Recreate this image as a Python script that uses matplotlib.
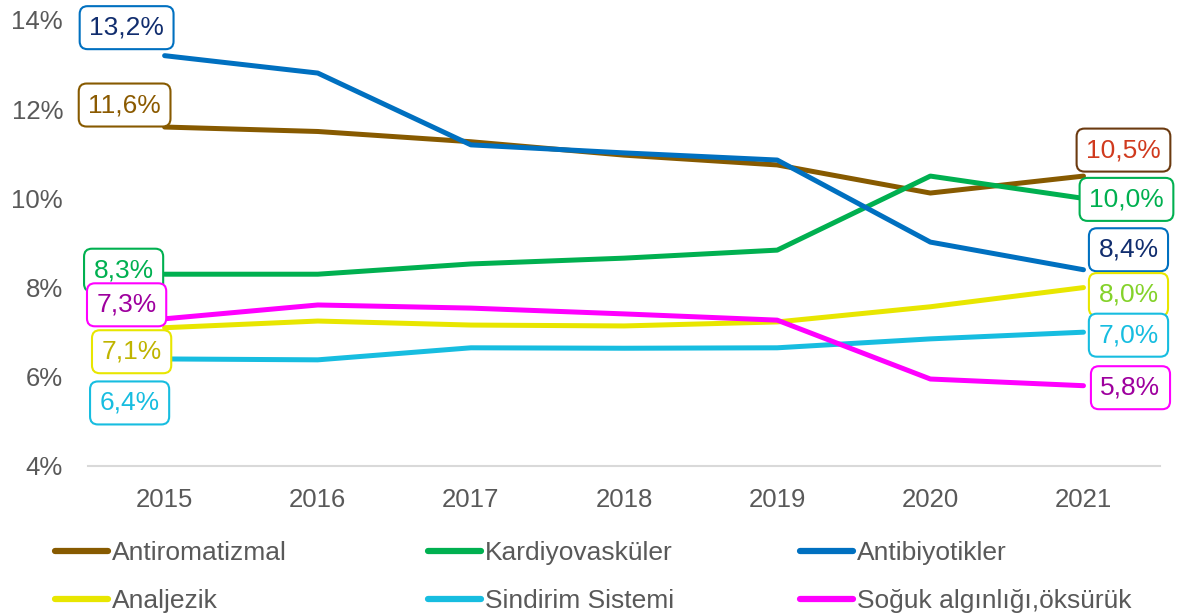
import matplotlib.pyplot as plt
from matplotlib.lines import Line2D

plt.rcParams['font.family'] = ['Liberation Sans', 'DejaVu Sans']

years = ['2015', '2016', '2017', '2018', '2019', '2020', '2021']

antiromatizmal = [11.6, 11.5, 11.27, 10.97, 10.75, 10.12, 10.5]
kardiyovaskuler = [8.3, 8.3, 8.53, 8.66, 8.84, 10.5, 10.0]
antibiyotikler = [13.2, 12.81, 11.2, 11.02, 10.86, 9.02, 8.4]
analjezik = [7.1, 7.25, 7.16, 7.14, 7.23, 7.57, 8.0]
sindirim = [6.4, 6.38, 6.65, 6.64, 6.65, 6.85, 7.0]
soguk = [7.3, 7.61, 7.54, 7.41, 7.27, 5.95, 5.8]

names = ['Antiromatizmal', 'Kardiyovasküler', 'Antibiyotikler',
         'Analjezik', 'Sindirim Sistemi', 'Soğuk algınlığı,öksürük']
series = [antiromatizmal, kardiyovaskuler, antibiyotikler, analjezik, sindirim, soguk]
colors = ['#875A00', '#00B050', '#0070C0', '#E8E600', '#17BDE0', '#FF00FF']

# label colours and offsets (pixels) for the first and last point
first_txt = ['#8B5A00', '#00B050', '#112D6E', '#BFB400', '#17BDE0', '#9E009E']
last_txt = ['#D03A1E', '#00B050', '#112D6E', '#84D22A', '#17BDE0', '#9E009E']
last_edge = ['#6B3A10', '#00B050', '#0070C0', '#E8E600', '#17BDE0', '#FF00FF']
first_off = [(-40, 22), (-41, 4), (-38, 28), (-33, -24), (-35, -44), (-38, 14)]
last_off = [(40, 26), (43, -1), (45, 20), (45, -7), (45, -3), (47, -2)]

fig = plt.figure(figsize=(11.77, 6.15), dpi=100)
ax = fig.add_axes([0.0748, 0.2423, 0.9108, 0.7252])

x = list(range(len(years)))
for s, c in zip(series, colors):
    ax.plot(x, s, color=c, lw=3.6, solid_capstyle='round', solid_joinstyle='round')

def fmt(v):
    return f'{v:.1f}%'.replace('.', ',')

box = 'round,pad=0.36,rounding_size=0.3'
for i, s in enumerate(series):
    ax.annotate(fmt(s[0]), xy=(0, s[0]), xytext=first_off[i], textcoords='offset pixels',
                ha='center', va='center', fontsize=19, color=first_txt[i],
                bbox=dict(boxstyle=box, fc='white', ec=colors[i], lw=1.5), zorder=5)
    ax.annotate(fmt(s[-1]), xy=(6, s[-1]), xytext=last_off[i], textcoords='offset pixels',
                ha='center', va='center', fontsize=19, color=last_txt[i],
                bbox=dict(boxstyle=box, fc='white', ec=last_edge[i], lw=1.5), zorder=5)

ax.set_xlim(-0.5, 6.5)
ax.set_ylim(4, 14)
ax.set_yticks([4, 6, 8, 10, 12, 14])
ax.set_yticklabels([f'{t}%' for t in [4, 6, 8, 10, 12, 14]])
ax.set_xticks(x)
ax.set_xticklabels(years)
for sp in ['top', 'right', 'left']:
    ax.spines[sp].set_visible(False)
ax.spines['bottom'].set_color('#D9D9D9')
ax.spines['bottom'].set_linewidth(1.5)
ax.tick_params(axis='both', length=0, labelsize=18.5, colors='#595959')
ax.tick_params(axis='x', pad=16)
ax.tick_params(axis='y', pad=18)

# legend, 3 columns of 2 rows
cols_x = [0.047, 0.364, 0.680]
for k in range(3):
    hs = [Line2D([], [], color=colors[k], lw=4.5, solid_capstyle='round'),
          Line2D([], [], color=colors[k + 3], lw=4.5, solid_capstyle='round')]
    fig.legend(hs, [names[k], names[k + 3]], loc='upper left',
               bbox_to_anchor=(cols_x[k], 0.12), frameon=False, fontsize=19,
               handlelength=2.0, handletextpad=0.15, labelspacing=0.9,
               borderaxespad=0, borderpad=0, labelcolor='#595959')

fig.savefig('out.png', dpi=100)
